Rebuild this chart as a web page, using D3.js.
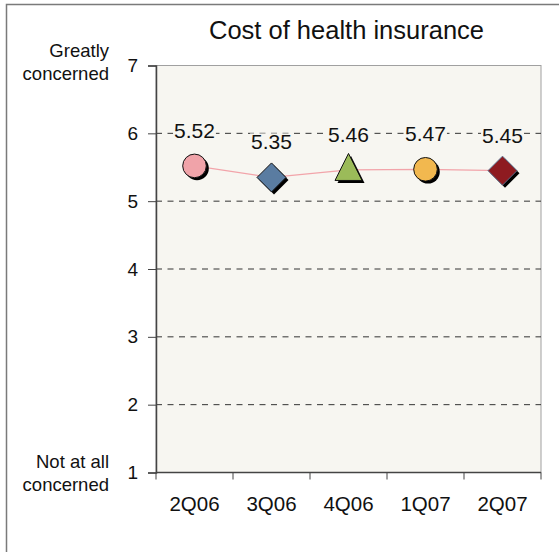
<!DOCTYPE html>
<html>
<head>
<meta charset="utf-8">
<script src="https://cdn.jsdelivr.net/npm/d3@7"></script>
<style>
  html, body { margin: 0; padding: 0; background: #fff; }
  svg { display: block; }
  text { font-family: Arial, "Liberation Sans", Helvetica, sans-serif; fill: #111; }
</style>
</head>
<body>
<svg id="chart" width="559" height="552"></svg>
<script>
// Survey quarters and mean concern score (1 = not at all, 7 = greatly concerned)
const quarters = ["2Q06", "3Q06", "4Q06", "1Q07", "2Q07"];
const scores = [5.52, 5.35, 5.46, 5.47, 5.45];
const markerShapes = ["circle", "diamond", "triangle", "circle", "diamond"];
const markerColors = ["#f0a3a9", "#5a7ca1", "#9bbb59", "#f2b84f", "#8e1b20"];
const yTicks = [1, 2, 3, 4, 5, 6, 7];
const gridValues = [2, 3, 4, 5, 6];
const titleText = "Cost of health insurance";

const svg = d3.select("#chart");
const plot = { left: 156, right: 541, top: 65.5, bottom: 472.5 };

const x = d3.scaleBand().domain(quarters).range([plot.left, plot.right]);
const y = d3.scaleLinear().domain([1, 7]).range([plot.bottom, plot.top]);

// Outer frame
svg.append("rect")
  .attr("x", 6.5).attr("y", 4.5)
  .attr("width", 600).attr("height", 600)
  .attr("fill", "none").attr("stroke", "#7a7a7a").attr("stroke-width", 1.5);

// Plot background with light border on top and right
svg.append("rect")
  .attr("x", plot.left).attr("y", plot.top)
  .attr("width", plot.right - plot.left).attr("height", plot.bottom - plot.top)
  .attr("fill", "#f7f6f1").attr("stroke", "#a0a0a0").attr("stroke-width", 1);

// Dashed gridlines
svg.append("g").selectAll("line").data(gridValues).join("line")
  .attr("x1", plot.left).attr("x2", plot.right)
  .attr("y1", d => y(d)).attr("y2", d => y(d))
  .attr("stroke", "#333").attr("stroke-width", 1)
  .attr("stroke-dasharray", "6,5.5");

// Y axis
const yAxis = svg.append("g")
  .attr("transform", `translate(${plot.left},0)`)
  .call(d3.axisLeft(y).tickValues(yTicks).tickSize(8).tickPadding(10).tickFormat(d3.format("d")));
yAxis.select(".domain").attr("stroke", "#444").attr("stroke-width", 1.5);
yAxis.selectAll(".tick line").attr("stroke", "#444");
yAxis.selectAll(".tick text")
  .style("font-size", "19px").attr("fill", "#111")
  .style("font-family", "Arial, 'Liberation Sans', sans-serif");

// X axis: ticks at category boundaries
const xAxisG = svg.append("g").attr("transform", `translate(0,${plot.bottom})`);
xAxisG.append("line")
  .attr("x1", plot.left).attr("x2", plot.right)
  .attr("stroke", "#444").attr("stroke-width", 1.5);
const boundaries = quarters.map(q => x(q)).concat([x(quarters[quarters.length - 1]) + x.bandwidth()]);
xAxisG.selectAll("line.tk").data(boundaries).join("line")
  .attr("class", "tk")
  .attr("x1", d => d).attr("x2", d => d)
  .attr("y1", 0).attr("y2", 7)
  .attr("stroke", "#444");
xAxisG.selectAll("text").data(quarters).join("text")
  .attr("x", d => x(d) + x.bandwidth() / 2)
  .attr("y", 38.5)
  .attr("text-anchor", "middle")
  .style("font-size", "20.5px")
  .text(d => d);

// Scale end descriptions
const endLabels = [
  { lines: ["Greatly", "concerned"], y0: 57 },
  { lines: ["Not at all", "concerned"], y0: 468 }
];
endLabels.forEach(l => {
  const t = svg.append("text")
    .attr("text-anchor", "end")
    .style("font-size", "18.5px");
  l.lines.forEach((s, i) => {
    t.append("tspan").attr("x", 109).attr("y", l.y0 + i * 22.5).text(s);
  });
});

// Title
svg.append("text")
  .attr("x", (plot.left + plot.right) / 2 - 2)
  .attr("y", 39)
  .attr("text-anchor", "middle")
  .style("font-size", "25.5px")
  .text(titleText);

const points = quarters.map((q, i) => ({
  q, v: scores[i], shape: markerShapes[i], color: markerColors[i],
  cx: x(q) + x.bandwidth() / 2, cy: y(scores[i])
}));

// Connecting line
svg.append("path")
  .datum(points)
  .attr("fill", "none")
  .attr("stroke", "#f2a4aa")
  .attr("stroke-width", 1.2)
  .attr("d", d3.line().x(d => d.cx).y(d => d.cy));

// Marker path generators
function shapePath(shape) {
  if (shape === "circle") return d3.symbol(d3.symbolCircle, Math.PI * 11.8 * 11.8)();
  if (shape === "diamond") {
    const r = 14.5;
    return `M0,${-r}L${r},0L0,${r}L${-r},0Z`;
  }
  // triangle: centroid-free, base at +h/2
  const w = 27, h = 27;
  return `M0,${-h / 2 - 3}L${w / 2},${h / 2 - 3}L${-w / 2},${h / 2 - 3}Z`;
}

const markers = svg.append("g").selectAll("g").data(points).join("g")
  .attr("transform", d => `translate(${d.cx},${d.cy})`);

// Drop shadow
markers.append("path")
  .attr("d", d => shapePath(d.shape))
  .attr("transform", "translate(2.5,2.5)")
  .attr("fill", "#000");

markers.append("path")
  .attr("d", d => shapePath(d.shape))
  .attr("fill", d => d.color)
  .attr("stroke", d => d.shape === "diamond" && d.color === "#8e1b20" ? "#5a6f8c" : "#111")
  .attr("stroke-width", 1);

// Value labels with a background patch that interrupts the gridline
const labels = svg.append("g").selectAll("g").data(points).join("g");
labels.each(function(d) {
  const g = d3.select(this);
  const bg = g.append("rect").attr("fill", "#f7f6f1");
  const t = g.append("text")
    .attr("x", d.cx)
    .attr("y", d.cy - 28)
    .attr("text-anchor", "middle")
    .style("font-size", "21px")
    .text(d3.format(".2f")(d.v));
  const b = t.node().getBBox();
  bg.attr("x", b.x - 1).attr("y", b.y + 3).attr("width", b.width + 2).attr("height", b.height - 5);
});
</script>
</body>
</html>
